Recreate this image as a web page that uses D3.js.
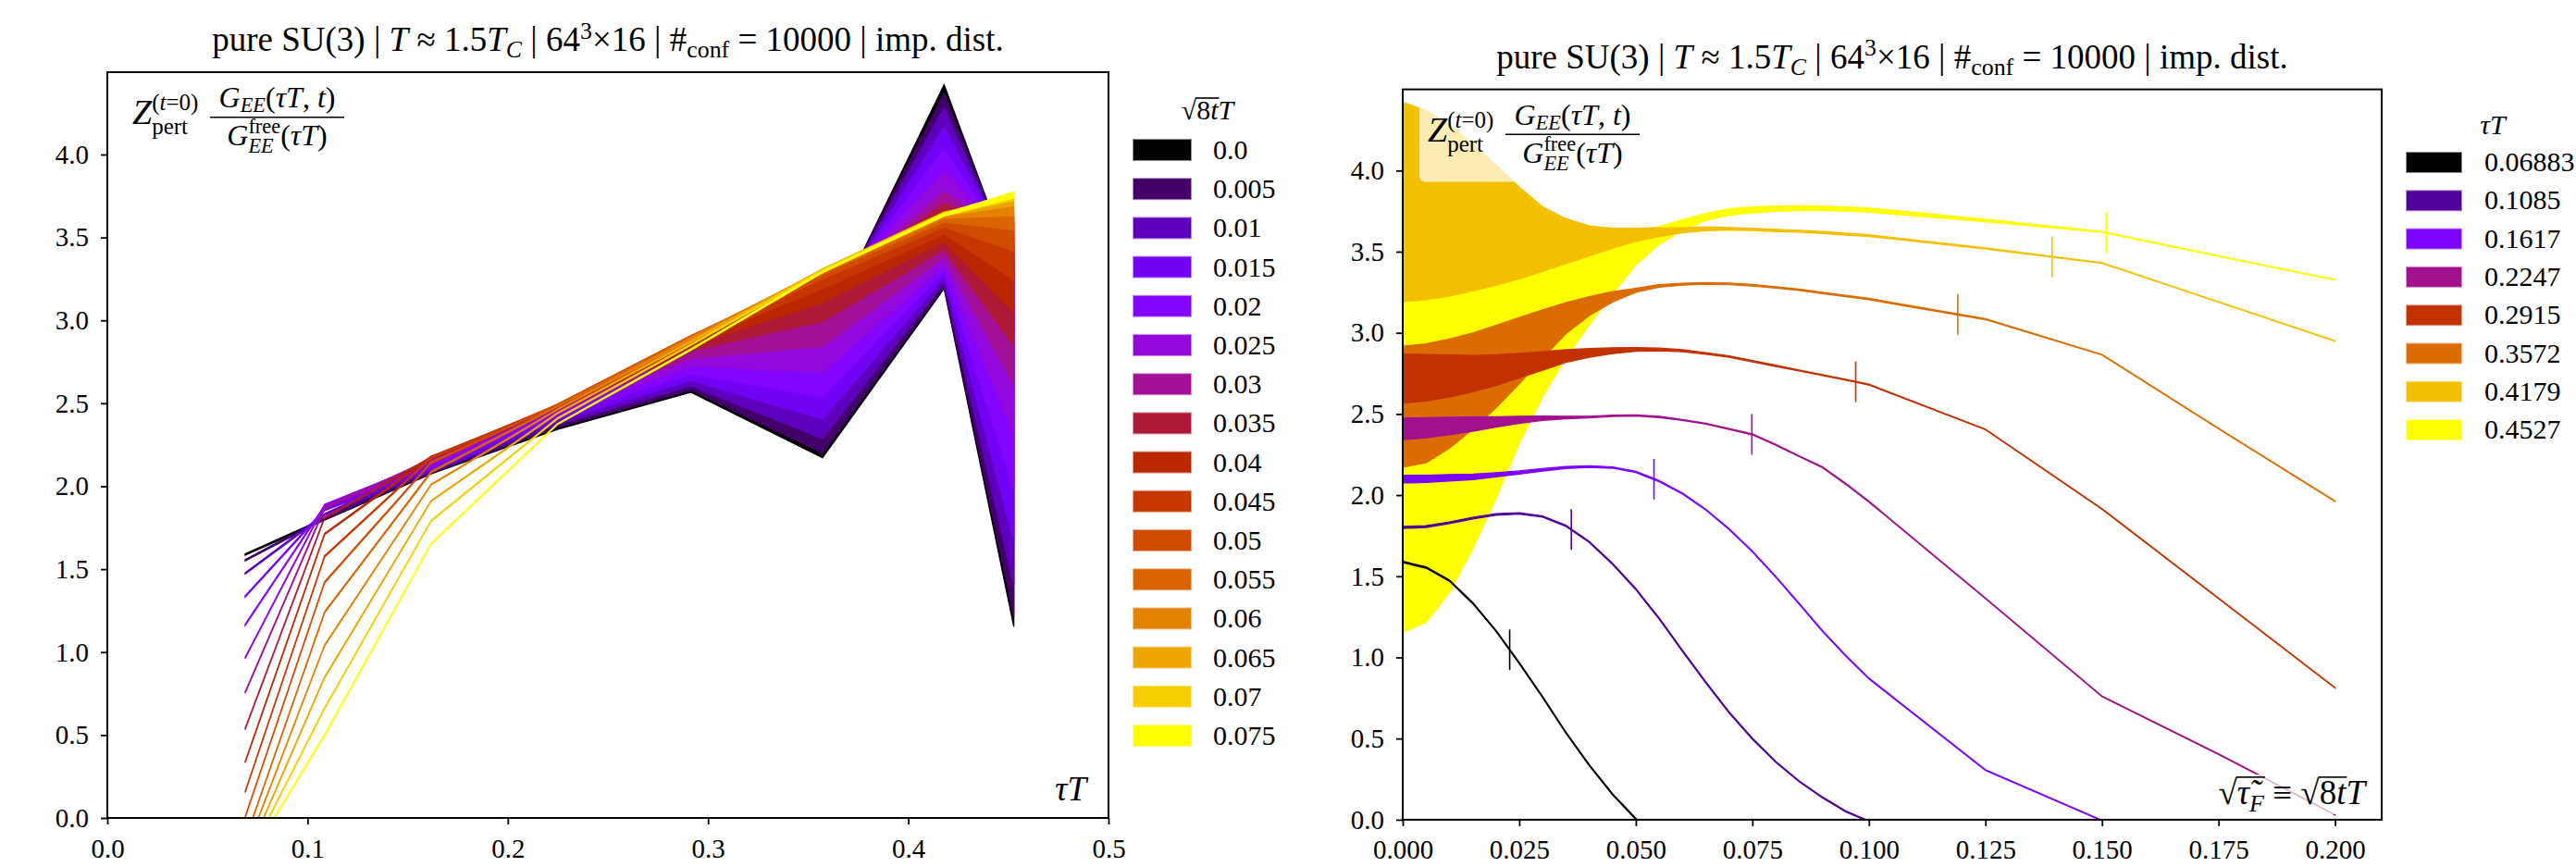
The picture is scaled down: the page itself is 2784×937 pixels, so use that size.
<!DOCTYPE html>
<html>
<head>
<meta charset="utf-8">
<script src="https://cdn.jsdelivr.net/npm/d3@7"></script>
<style>
  body { margin: 0; background: #fff; }
  svg { display: block; }
  text { font-family: "Liberation Serif", "Times New Roman", serif; fill: #000; white-space: pre; }
</style>
</head>
<body>
<div id="chart"></div>
<script>
// ---- data ----
const tauT = [0.06883, 0.1085, 0.1617, 0.2247, 0.2915, 0.3572, 0.4179, 0.4527];
const tauLabels = ["0.06883", "0.1085", "0.1617", "0.2247", "0.2915", "0.3572", "0.4179", "0.4527"];

// flow radius sqrt(8t)T at which the ratio was evaluated
const flowT = [0, 0.005, 0.01, 0.015, 0.02, 0.025, 0.03, 0.035, 0.04, 0.045, 0.05, 0.055, 0.06,
               0.065, 0.07, 0.075, 0.08, 0.085, 0.09, 0.095, 0.1, 0.125, 0.15, 0.175, 0.2];
// the left panel shows only the first 16 flow times
const flowLabels = ["0.0", "0.005", "0.01", "0.015", "0.02", "0.025", "0.03", "0.035", "0.04",
                    "0.045", "0.05", "0.055", "0.06", "0.065", "0.07", "0.075"];

// ratio (mean) and error per tauT, one entry per flowT (null = not on the chart)
const ratio_06883 = [1.588, 1.554, 1.474, 1.335, 1.164, 0.965, 0.756, 0.537, 0.337, 0.157, 0.005, -0.133, -0.208,
                     -0.256, -0.279, -0.288, null, null, null, null, null, null, null, null, null];
const err_06883 = [0.004, 0.004, 0.004, 0.004, 0.004, 0.004, 0.004, 0.004, 0.004, 0.004, 0.004, 0.004, 0.004,
                   0.004, 0.004, 0.004, 0.004, 0.004, 0.004, 0.004, 0.004, 0.004, 0.004, 0.004, 0.004];

const ratio_1085 = [1.801, 1.806, 1.830, 1.858, 1.881, 1.887, 1.868, 1.811, 1.712, 1.577, 1.421, 1.240, 1.041,
                    0.847, 0.661, 0.499, 0.357, 0.237, 0.138, 0.052, -0.010, null, null, null, null];
const err_1085 = [0.006, 0.006, 0.005, 0.005, 0.005, 0.004, 0.004, 0.004, 0.004, 0.004, 0.004, 0.004, 0.004,
                  0.004, 0.004, 0.004, 0.003, 0.003, 0.003, 0.003, 0.003, 0.003, 0.003, 0.003, 0.003];

const ratio_1617 = [2.099, 2.100, 2.107, 2.113, 2.125, 2.139, 2.156, 2.170, 2.176, 2.170, 2.143, 2.086, 2.010,
                    1.911, 1.791, 1.653, 1.497, 1.332, 1.164, 1.012, 0.870, 0.306, -0.005, null, null];
const err_1617 = [0.024, 0.022, 0.020, 0.017, 0.013, 0.010, 0.008, 0.006, 0.005, 0.004, 0.004, 0.004, 0.003,
                  0.003, 0.003, 0.003, 0.003, 0.003, 0.003, 0.003, 0.003, 0.002, 0.002, 0.002, 0.002];

const ratio_2247 = [2.409, 2.415, 2.426, 2.437, 2.451, 2.464, 2.474, 2.478, 2.481, 2.489, 2.491, 2.482, 2.463,
                    2.440, 2.408, 2.374, 2.310, 2.240, 2.172, 2.070, 1.960, 1.364, 0.760, 0.404, 0.030];
const err_2247 = [0.067, 0.062, 0.054, 0.044, 0.032, 0.022, 0.013, 0.008, 0.005, 0.004, 0.004, 0.004, 0.003,
                  0.003, 0.003, 0.003, 0.003, 0.003, 0.003, 0.003, 0.003, 0.002, 0.002, 0.002, 0.002];

const ratio_2915 = [2.718, 2.723, 2.734, 2.749, 2.770, 2.798, 2.827, 2.857, 2.876, 2.890, 2.898, 2.898, 2.890,
                    2.873, 2.854, 2.825, 2.797, 2.768, 2.740, 2.711, 2.681, 2.405, 1.915, 1.364, 0.813];
const err_2915 = [0.151, 0.143, 0.130, 0.112, 0.095, 0.075, 0.057, 0.039, 0.027, 0.018, 0.011, 0.008, 0.006,
                  0.005, 0.004, 0.004, 0.004, 0.003, 0.003, 0.003, 0.003, 0.002, 0.002, 0.002, 0.002];

const ratio_3572 = [2.545, 2.566, 2.625, 2.702, 2.792, 2.890, 2.993, 3.090, 3.165, 3.222, 3.262, 3.289, 3.300,
                    3.305, 3.302, 3.293, 3.280, 3.265, 3.246, 3.227, 3.208, 3.084, 2.865, 2.410, 1.962];
const err_3572 = [0.373, 0.366, 0.337, 0.297, 0.254, 0.204, 0.149, 0.096, 0.058, 0.032, 0.012, 0.008, 0.006,
                  0.005, 0.005, 0.005, 0.004, 0.004, 0.004, 0.004, 0.004, 0.003, 0.002, 0.002, 0.002];

const ratio_4179 = [3.806, 3.788, 3.754, 3.712, 3.664, 3.615, 3.577, 3.565, 3.566, 3.583, 3.604, 3.620, 3.632,
                    3.641, 3.641, 3.637, 3.631, 3.626, 3.618, 3.608, 3.599, 3.520, 3.430, 3.190, 2.950];
const err_4179 = [0.614, 0.583, 0.528, 0.454, 0.371, 0.283, 0.199, 0.139, 0.093, 0.062, 0.041, 0.027, 0.016,
                  0.012, 0.008, 0.007, 0.007, 0.006, 0.006, 0.006, 0.005, 0.004, 0.002, 0.002, 0.002];

const ratio_4527 = [2.222, 2.263, 2.365, 2.519, 2.690, 2.879, 3.048, 3.188, 3.315, 3.421, 3.524, 3.600, 3.664,
                    3.714, 3.744, 3.757, 3.765, 3.768, 3.767, 3.763, 3.756, 3.692, 3.622, 3.473, 3.327];
const err_4527 = [1.068, 1.047, 0.965, 0.851, 0.710, 0.561, 0.441, 0.342, 0.266, 0.179, 0.106, 0.055, 0.033,
                  0.022, 0.020, 0.018, 0.016, 0.015, 0.014, 0.013, 0.013, 0.008, 0.003, 0.002, 0.002];

const yTicks = [0, 0.5, 1.0, 1.5, 2.0, 2.5, 3.0, 3.5, 4.0];
const xTicksLeft = [0, 0.1, 0.2, 0.3, 0.4, 0.5];
const xTicksRight = [0, 0.025, 0.05, 0.075, 0.1, 0.125, 0.15, 0.175, 0.2];

const ratioByTau = [ratio_06883, ratio_1085, ratio_1617, ratio_2247, ratio_2915, ratio_3572, ratio_4179, ratio_4527];
const errByTau = [err_06883, err_1085, err_1617, err_2247, err_2915, err_3572, err_4179, err_4527];

// ---- setup ----
const W = 2784, H = 937;
const FONT = '"Liberation Serif", "Times New Roman", serif';

const svg = d3.select("#chart").append("svg")
    .attr("width", W)
    .attr("height", H);

// matplotlib "gnuplot" colormap
function gnuplot(x) {
    const r = Math.sqrt(x);
    const g = x * x * x;
    const b = Math.max(0, Math.min(1, Math.sin(2 * Math.PI * x)));
    return d3.rgb(r * 255, g * 255, b * 255).formatHex();
}
const flowColor = i => gnuplot(i / (flowLabels.length - 1));
const tauColor = t => gnuplot((t - tauT[0]) / (tauT[tauT.length - 1] - tauT[0]));

const left = { x0: 116, x1: 1198, y0: 78, y1: 884 };
const right = { x0: 1516, x1: 2574, y0: 96.6, y1: 885.9 };

const xL = d3.scaleLinear().domain([0, 0.5]).range([left.x0, left.x1]);
const yL = d3.scaleLinear().domain([0, 4.5]).range([left.y1, left.y1 - 4.5 * 179.25]);
const xR = d3.scaleLinear().domain([0, 0.21]).range([right.x0, right.x1]);
const yR = d3.scaleLinear().domain([0, 4.5]).range([right.y1, right.y0]);

const defs = svg.append("defs");
[["clipL", left], ["clipR", right]].forEach(([id, p]) => {
    defs.append("clipPath").attr("id", id)
        .append("rect")
        .attr("x", p.x0).attr("y", p.y0)
        .attr("width", p.x1 - p.x0).attr("height", p.y1 - p.y0);
});

// ---- small helpers for the LaTeX-like labels ----
function run(g, x, y, txt, size, italic) {
    const t = g.append("text")
        .attr("x", x).attr("y", y)
        .style("font-size", size + "px")
        .style("font-style", italic ? "italic" : "normal")
        .text(txt);
    return x + t.node().getComputedTextLength();
}

function mathRow(g, x, y, items) {
    items.forEach(it => {
        if (it.sup || it.sub) {
            const e1 = it.sup ? mathRow(g, x, y + it.supDy, it.sup) : x;
            const e2 = it.sub ? mathRow(g, x, y + it.subDy, it.sub) : x;
            x = Math.max(e1, e2);
        } else if (it.over) {
            const sx = x;
            x = mathRow(g, x, y, it.over);
            g.append("line")
                .attr("x1", sx - 1).attr("x2", x + 1)
                .attr("y1", y - it.barY).attr("y2", y - it.barY)
                .attr("stroke", "#000").attr("stroke-width", 1.6);
        } else {
            x = run(g, x, y + (it.dy || 0), it.t, it.s, it.it);
        }
    });
    return x;
}

// place a row so that it is centred on / right aligned at x
function placeRow(parent, x, y, items, anchor) {
    const g = parent.append("g");
    const w = mathRow(g, 0, 0, items);
    const dx = anchor === "middle" ? x - w / 2 : anchor === "end" ? x - w : x;
    g.attr("transform", `translate(${dx},${y})`);
    return { g: g, w: w };
}

// centred row whose size is tuned so that it spans about targetWidth
function fitRow(parent, cx, y, itemsFn, base, targetWidth, maxSize) {
    const probe = placeRow(parent, cx, y, itemsFn(base), "middle");
    const s = Math.min(maxSize, base * targetWidth / probe.w);
    probe.g.remove();
    return placeRow(parent, cx, y, itemsFn(s), "middle");
}

function titleItems(s) {
    const ss = s * 0.7;
    return [
        { t: "pure SU(3) | ", s: s },
        { t: "T", s: s, it: true },
        { t: " ≈ 1.5", s: s },
        { t: "T", s: s, it: true },
        { t: "C", s: ss, it: true, dy: s * 0.2 },
        { t: " | 64", s: s },
        { t: "3", s: ss, dy: -s * 0.36 },
        { t: "×16 | #", s: s },
        { t: "conf", s: ss, dy: s * 0.2 },
        { t: " = 10000 | imp. dist.", s: s }
    ];
}

const numerItems = s => [
    { t: "G", s: s, it: true },
    { t: "EE", s: s * 0.7, it: true, dy: s * 0.17 },
    { t: "(", s: s }, { t: "τT", s: s, it: true }, { t: ", ", s: s },
    { t: "t", s: s, it: true }, { t: ")", s: s }
];
const denomItems = s => [
    { t: "G", s: s, it: true },
    { sup: [{ t: "free", s: s * 0.7 }], supDy: -s * 0.4,
      sub: [{ t: "EE", s: s * 0.7, it: true }], subDy: s * 0.26 },
    { t: "(", s: s }, { t: "τT", s: s, it: true }, { t: ")", s: s }
];

function drawAnnotation(p) {
    const fx = p.x0, fy = p.y0;
    const g = svg.append("g");
    // translucent box behind the label
    g.append("rect")
        .attr("x", fx + 18).attr("y", fy + 16)
        .attr("width", 256).attr("height", 84).attr("rx", 6)
        .attr("fill", "#fff").attr("fill-opacity", 0.7);
    mathRow(g, fx + 27, fy + 56, [
        { t: "Z", s: 38, it: true },
        { sup: [{ t: "(", s: 25 }, { t: "t", s: 25, it: true }, { t: "=0)", s: 25 }], supDy: -15,
          sub: [{ t: "pert", s: 25 }], subDy: 11 }
    ]);
    const bx0 = fx + 111, bx1 = fx + 256, by = fy + 48.7;
    g.append("line")
        .attr("x1", bx0).attr("x2", bx1).attr("y1", by).attr("y2", by)
        .attr("stroke", "#000").attr("stroke-width", 1.6);
    fitRow(g, (bx0 + bx1) / 2, fy + 38, numerItems, 28, 141, 32);
    fitRow(g, (bx0 + bx1) / 2, fy + 79, denomItems, 28, 123, 32);
}

function drawAxes(p, xs, ys, xTicks, xFmt) {
    const gx = svg.append("g")
        .attr("transform", `translate(0,${p.y1})`)
        .call(d3.axisBottom(xs).tickValues(xTicks).tickFormat(d3.format(xFmt)).tickSize(7).tickPadding(15));
    const gy = svg.append("g")
        .attr("transform", `translate(${p.x0},0)`)
        .call(d3.axisLeft(ys).tickValues(yTicks).tickFormat(d3.format(".1f")).tickSize(7).tickPadding(13));
    [gx, gy].forEach(a => {
        a.select(".domain").remove();
        a.attr("font-family", FONT).attr("font-size", 29);
        a.selectAll("line").attr("stroke-width", 1.8);
    });
    svg.append("rect")
        .attr("x", p.x0).attr("y", p.y0)
        .attr("width", p.x1 - p.x0).attr("height", p.y1 - p.y0)
        .attr("fill", "none").attr("stroke", "#000").attr("stroke-width", 2);
}

// ---- left panel: ratio vs tauT, one band per flow time ----
const bandL = d3.area()
    .x(d => xL(d.x))
    .y0(d => yL(d.m - d.e))
    .y1(d => yL(d.m + d.e));

const gL = svg.append("g").attr("clip-path", "url(#clipL)");
flowLabels.forEach((lab, k) => {
    const pts = tauT.map((t, j) => ({ x: t, m: ratioByTau[j][k], e: errByTau[j][k] }));
    gL.append("path")
        .datum(pts)
        .attr("d", bandL)
        .attr("fill", flowColor(k))
        .attr("stroke", flowColor(k))
        .attr("stroke-width", 1.3);
});

// ---- right panel: ratio vs flow radius, one band per tauT ----
const bandR = d3.area()
    .x(d => xR(d.x))
    .y0(d => yR(d.m - d.e))
    .y1(d => yR(d.m + d.e));

const gR = svg.append("g").attr("clip-path", "url(#clipR)");
for (let j = tauT.length - 1; j >= 0; j--) {
    const pts = flowT.map((f, i) => ({ x: f, m: ratioByTau[j][i], e: errByTau[j][i] }))
        .filter(d => d.m !== null);
    gR.append("path")
        .datum(pts)
        .attr("d", bandR)
        .attr("fill", tauColor(tauT[j]))
        .attr("stroke", tauColor(tauT[j]))
        .attr("stroke-width", 1.3);
}
// markers at sqrt(8t)T = tauT/3
tauT.forEach((t, j) => {
    const pts = flowT.map((f, i) => [f, ratioByTau[j][i]]).filter(d => d[1] !== null);
    const interp = d3.scaleLinear().domain(pts.map(d => d[0])).range(pts.map(d => d[1]));
    const fm = t / 3;
    const v = interp(fm);
    gR.append("line")
        .attr("x1", xR(fm)).attr("x2", xR(fm))
        .attr("y1", yR(v - 0.125)).attr("y2", yR(v + 0.125))
        .attr("stroke", tauColor(t))
        .attr("stroke-width", 1.6);
});

// ---- labels ----
drawAnnotation(left);
drawAnnotation(right);

// x labels
placeRow(svg, left.x1 - 24, left.y1 - 19, [{ t: "τT", s: 37, it: true }], "end");

svg.append("rect")
    .attr("x", right.x1 - 196).attr("y", right.y1 - 49)
    .attr("width", 188).attr("height", 43).attr("rx", 6)
    .attr("fill", "#fff").attr("fill-opacity", 0.7);
placeRow(svg, right.x1 - 18, right.y1 - 17, [
    { t: "√", s: 37 },
    { over: [{ t: "τ̃", s: 37, it: true }, { t: "F", s: 26, it: true, dy: 8 }], barY: 29 },
    { t: " ≡ ", s: 37 },
    { t: "√", s: 37 },
    { over: [{ t: "8", s: 37 }, { t: "t", s: 37, it: true }], barY: 29 },
    { t: "T", s: 37, it: true }
], "end");

// titles
fitRow(svg, (left.x0 + left.x1) / 2, left.y0 - 23, titleItems, 33, 944, 37);
fitRow(svg, (right.x0 + right.x1) / 2, right.y0 - 23, titleItems, 33, 930, 37);

drawAxes(left, xL, yL, xTicksLeft, ".1f");
drawAxes(right, xR, yR, xTicksRight, ".3f");

// ---- legends ----
placeRow(svg, 1305, 129, [
    { t: "√", s: 30 },
    { over: [{ t: "8", s: 30 }, { t: "t", s: 30, it: true }], barY: 23 },
    { t: "T", s: 30, it: true }
], "middle");
const legL = svg.append("g");
flowLabels.forEach((lab, k) => {
    const y = 151 + k * 42.2;
    legL.append("rect")
        .attr("x", 1225).attr("y", y).attr("width", 62).attr("height", 22)
        .attr("fill", flowColor(k))
        .attr("stroke", flowColor(k)).attr("stroke-opacity", 0.45).attr("stroke-width", 2);
    legL.append("text")
        .attr("x", 1311).attr("y", y + 21)
        .style("font-size", "30px")
        .text(lab);
});

placeRow(svg, 2694, 145, [{ t: "τT", s: 30, it: true }], "middle");
const legR = svg.append("g");
tauLabels.forEach((lab, j) => {
    const y = 165 + j * 41.3;
    legR.append("rect")
        .attr("x", 2601).attr("y", y).attr("width", 59).attr("height", 21)
        .attr("fill", tauColor(tauT[j]))
        .attr("stroke", tauColor(tauT[j])).attr("stroke-opacity", 0.45).attr("stroke-width", 2);
    legR.append("text")
        .attr("x", 2685).attr("y", y + 20)
        .style("font-size", "30px")
        .text(lab);
});
</script>
</body>
</html>
